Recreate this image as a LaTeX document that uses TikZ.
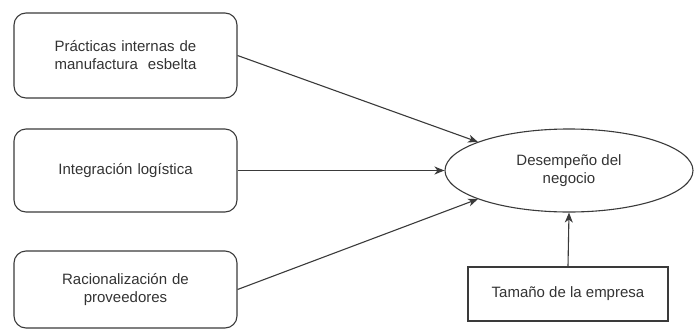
\documentclass[tikz,border=0pt]{standalone}
\usepackage{fontspec}
\setmainfont{Liberation Sans}
\usetikzlibrary{shapes.geometric,arrows.meta}
\definecolor{txt}{HTML}{333333}
\definecolor{ln}{HTML}{3A3A3A}
\begin{document}
\begin{tikzpicture}[x=1pt,y=-1pt,
  lbl/.style={font=\fontsize{15}{18}\selectfont,text=txt,align=center,inner sep=0pt},
  rbox/.style={lbl,draw=ln,line width=1.1pt,rounded corners=12pt,minimum width=223pt,text width=210pt},
  sbox/.style={lbl,draw=ln,line width=1.1pt,minimum width=200pt,minimum height=54pt},
  oval/.style={lbl,draw=ln,line width=1.1pt,ellipse,minimum width=248pt,minimum height=83pt},
  conn/.style={draw=ln,line width=1.1pt,-{Stealth[length=10pt,width=8pt,inset=3pt]}}]
\useasboundingbox (0,0) rectangle (697,330);
\node[rbox,minimum height=85pt] (b1) at (125.5,55.5) {Prácticas internas de\\manufactura\ \ esbelta};
\node[rbox,minimum height=83pt] (b2) at (125.5,170.5) {Integración\ logística};
\node[rbox,minimum height=77pt] (b3) at (125.5,289.5) {Racionalización de\\proveedores};
\node[oval] (e) at (569,170.5) {Desempeño del\\negocio};
\node[sbox] (t) at (568,294) {Tamaño de la empresa};
\draw[conn] (b1.east) -- (478,142);
\draw[conn] (b2.east) -- (e.west);
\draw[conn] (b3.east) -- (478,199);
\draw[conn] (t.north) -- (e.south);
\end{tikzpicture}
\end{document}
